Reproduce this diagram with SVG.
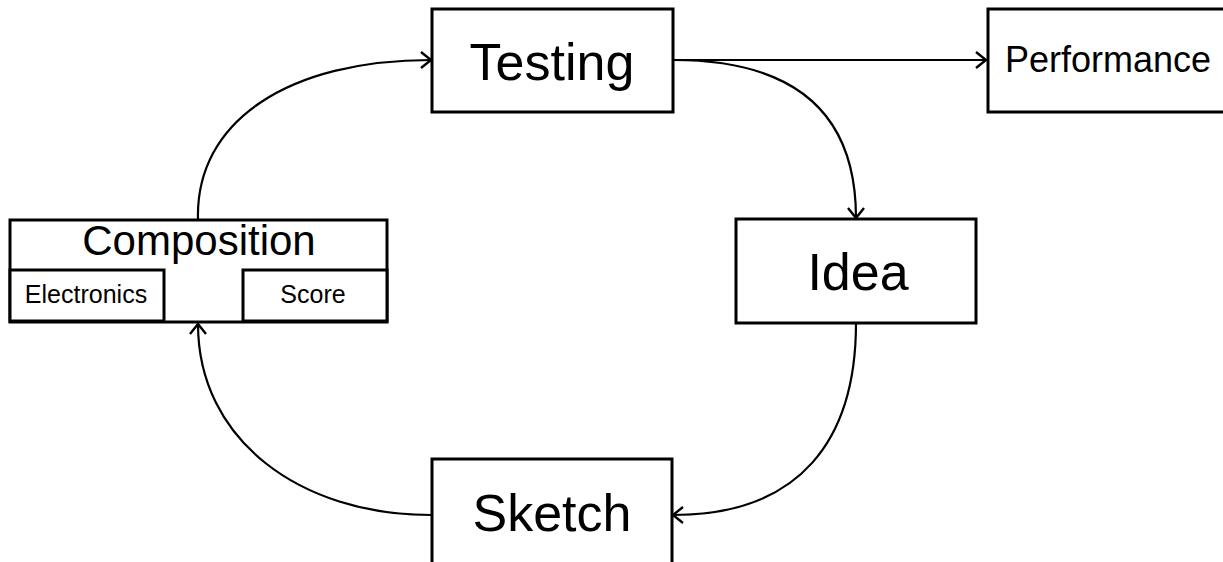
<svg xmlns="http://www.w3.org/2000/svg" width="1223" height="562" viewBox="0 0 1223 562">
<defs>
<style>
.box{fill:#fff;stroke:#000;stroke-width:3}
.t{font-family:"Liberation Sans",Arial,sans-serif;fill:#000;text-anchor:middle}
.c{fill:none;stroke:#000;stroke-width:2.2}
</style>
<marker id="ah" viewBox="0 0 14 20" refX="12" refY="10" markerWidth="14" markerHeight="20" markerUnits="userSpaceOnUse" orient="auto-start-reverse">
<path d="M2,2 L12,10 L2,18" fill="none" stroke="#000" stroke-width="2.4"/>
</marker>
</defs>
<rect width="1223" height="562" fill="#fff"/>
<g id="connectors">
<path class="c" d="M198,220 C195,120 290,60 431,60" marker-end="url(#ah)"/>
<path class="c" d="M673,60 L986,60" marker-end="url(#ah)"/>
<path class="c" d="M673,60 C780,60 856,100 856,218" marker-end="url(#ah)"/>
<path class="c" d="M856,323 C856,440 800,515 673,515" marker-end="url(#ah)"/>
<path class="c" d="M431,515 C300,515 198,440 198,324" marker-end="url(#ah)"/>
<path class="c" d="M165,295 L242,295" marker-start="url(#ah)" marker-end="url(#ah)"/>
</g>
<g id="testing">
<rect class="box" x="432" y="9" width="241" height="103"/>
<text class="t" x="552" y="80" font-size="52">Testing</text>
</g>
<g id="performance">
<rect class="box" x="988" y="9" width="250" height="103"/>
<text class="t" x="1108" y="72" font-size="36">Performance</text>
</g>
<g id="idea">
<rect class="box" x="736" y="219" width="240" height="104"/>
<text class="t" x="858" y="290" font-size="52">Idea</text>
</g>
<g id="sketch">
<rect class="box" x="432" y="459" width="240" height="110"/>
<text class="t" x="552" y="531" font-size="52">Sketch</text>
</g>
<g id="composition">
<rect class="box" x="10" y="220" width="377" height="102"/>
<text class="t" x="199" y="255" font-size="42">Composition</text>
</g>
<g id="electronics">
<rect class="box" x="10" y="270" width="154" height="51"/>
<text class="t" x="86" y="303" font-size="25">Electronics</text>
</g>
<g id="score">
<rect class="box" x="243" y="270" width="144" height="51"/>
<text class="t" x="313" y="303" font-size="25">Score</text>
</g>
</svg>
